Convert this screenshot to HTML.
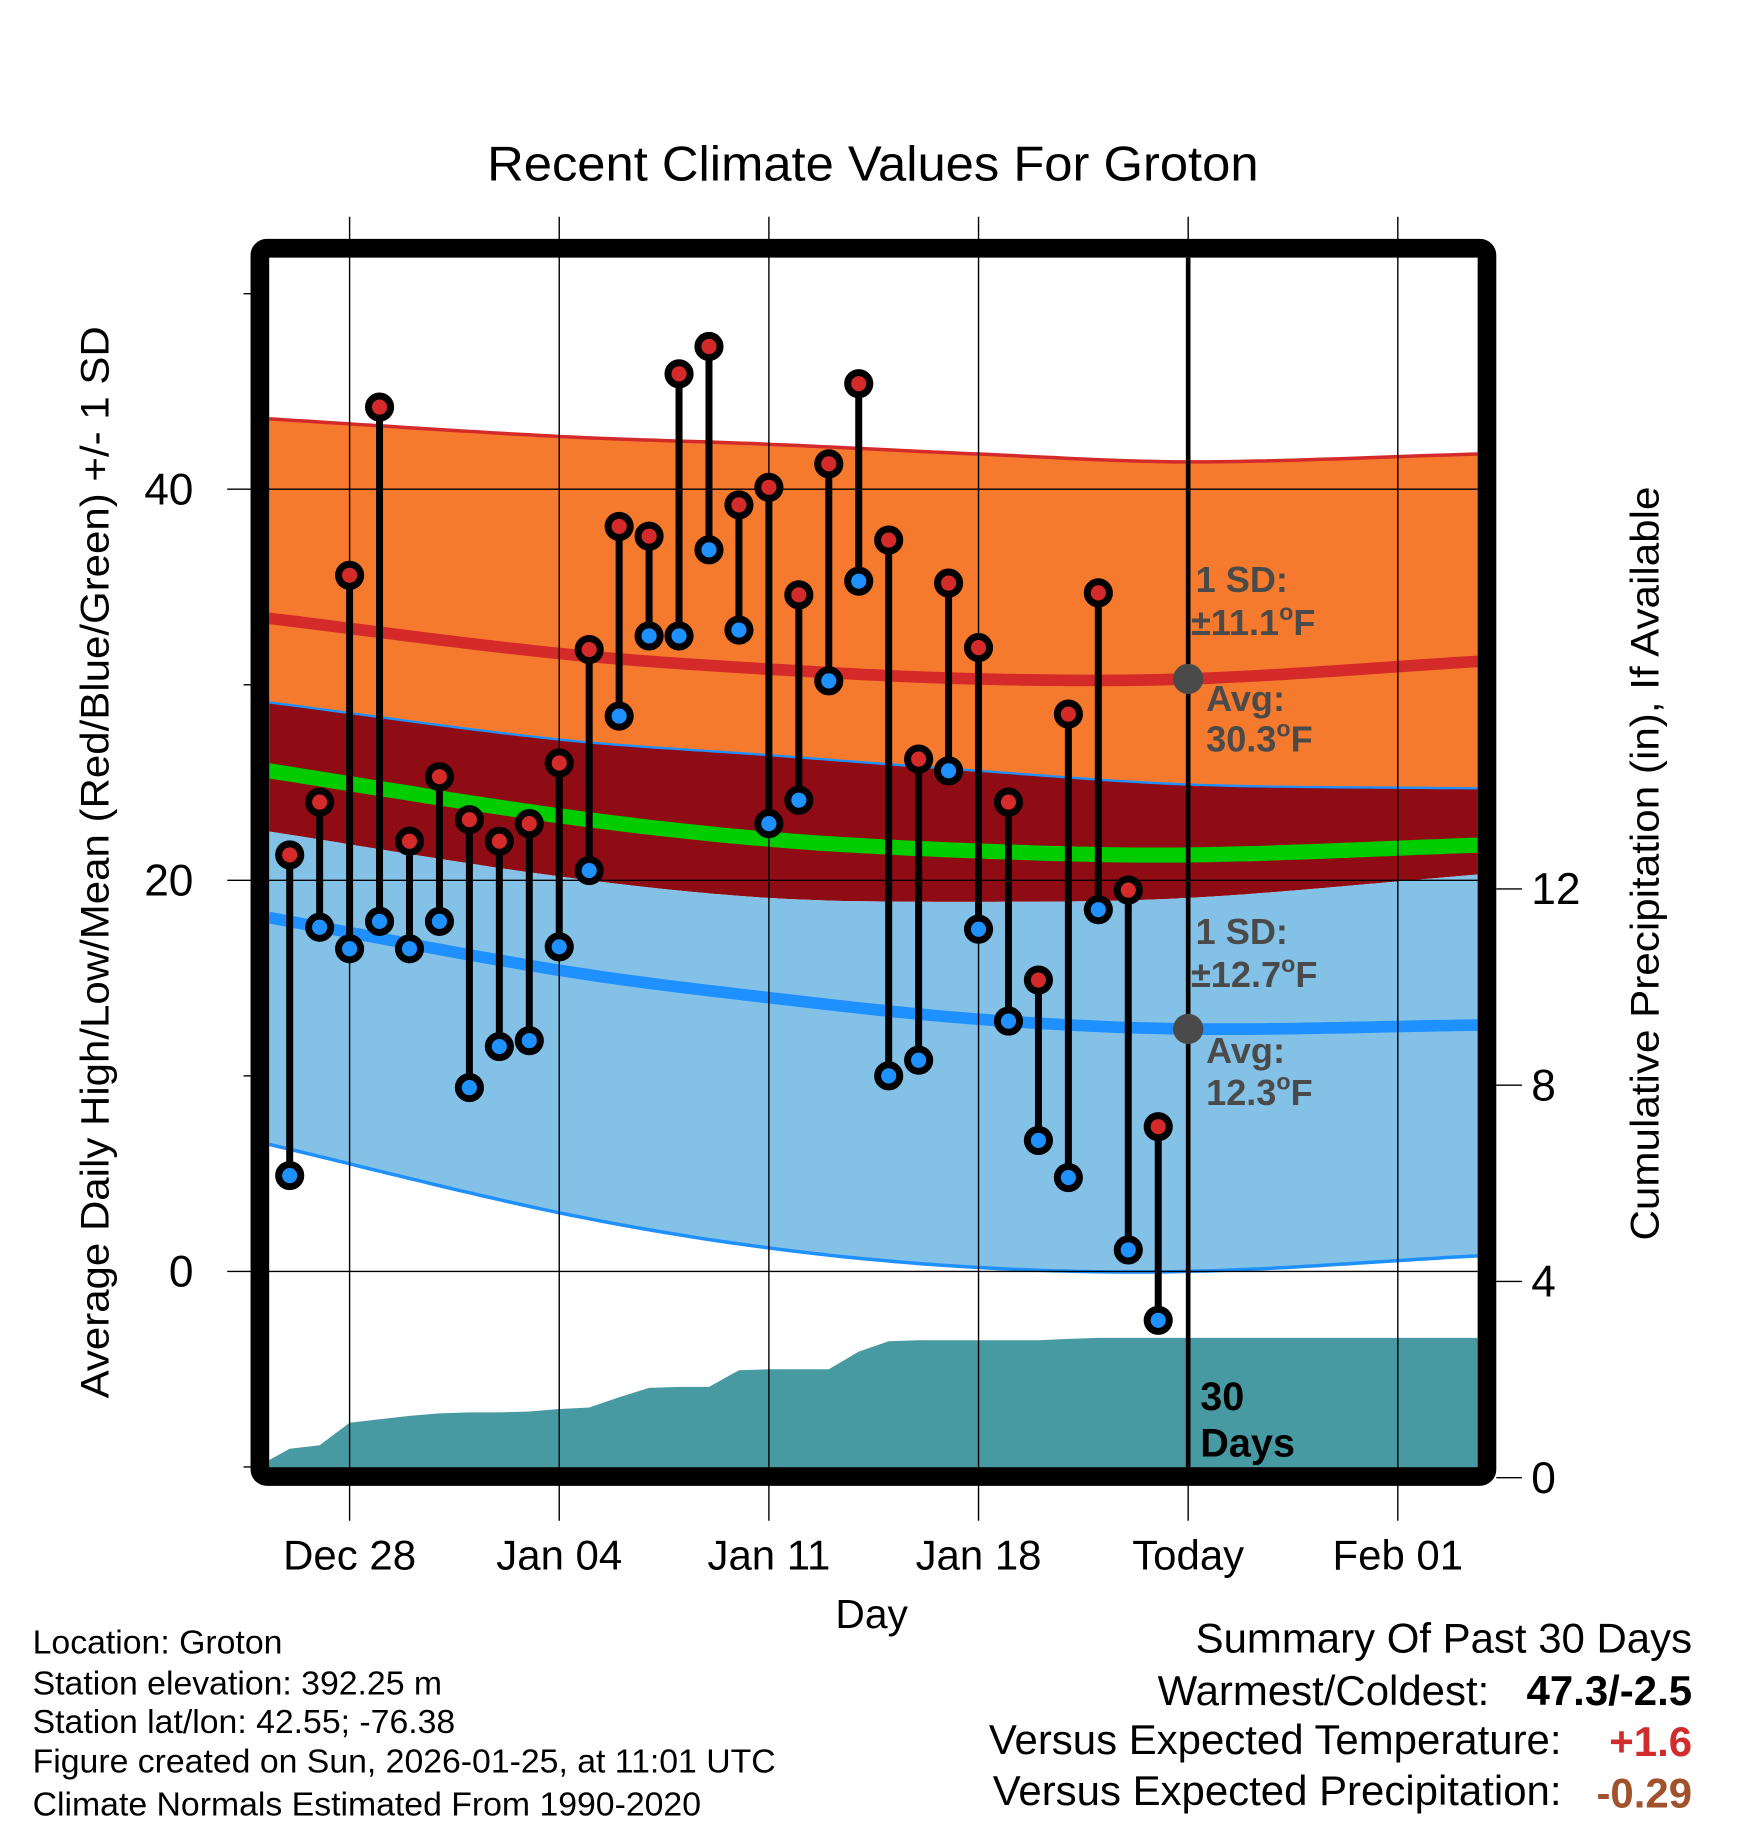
<!DOCTYPE html>
<html><head><meta charset="utf-8"><style>
html,body{margin:0;padding:0;background:#fff;}
svg{display:block;font-family:"Liberation Sans",Arial,sans-serif;}
</style></head><body>
<svg id="chart" width="1748" height="1828" viewBox="0 0 1500 1568.6" xmlns="http://www.w3.org/2000/svg">
<rect x="0" y="0" width="1500" height="1568.6" fill="#fff"/>
<defs><clipPath id="plotclip"><rect x="231" y="221" width="1037" height="1038"/></clipPath></defs>
<text x="749" y="155" font-size="42" text-anchor="middle" textLength="662" lengthAdjust="spacingAndGlyphs">Recent Climate Values For Groton</text>
<g id="bands" clip-path="url(#plotclip)"></g>
<g id="grid"></g>
<g id="marks" clip-path="url(#plotclip)"></g>
<g id="ann"></g>
<rect x="223" y="213" width="1053" height="1054" rx="6" fill="none" stroke="#000" stroke-width="16"/>
<text transform="translate(93,740) rotate(-90)" font-size="34" text-anchor="middle" textLength="920" lengthAdjust="spacingAndGlyphs">Average Daily High/Low/Mean (Red/Blue/Green) +/- 1 SD</text>
<text transform="translate(1423,741) rotate(-90)" font-size="34" text-anchor="middle" textLength="647" lengthAdjust="spacingAndGlyphs">Cumulative Precipitation (in), If Available</text>
<text x="748" y="1397" font-size="35" text-anchor="middle">Day</text>
<g font-size="29">
<text x="28" y="1419">Location: Groton</text>
<text x="28" y="1454">Station elevation: 392.25 m</text>
<text x="28" y="1487">Station lat/lon: 42.55; -76.38</text>
<text x="28" y="1521">Figure created on Sun, 2026-01-25, at 11:01 UTC</text>
<text x="28" y="1558">Climate Normals Estimated From 1990-2020</text>
</g>
<g font-size="36">
<text x="1452" y="1418" text-anchor="end">Summary Of Past 30 Days</text>
<text x="1278" y="1463" text-anchor="end">Warmest/Coldest:</text>
<text x="1452" y="1463" text-anchor="end" font-weight="bold">47.3/-2.5</text>
<text x="1340" y="1505" text-anchor="end">Versus Expected Temperature:</text>
<text x="1452" y="1507" text-anchor="end" font-weight="bold" fill="#d22b2b">+1.6</text>
<text x="1340" y="1549" text-anchor="end">Versus Expected Precipitation:</text>
<text x="1452" y="1551" text-anchor="end" font-weight="bold" fill="#a0522d">-0.29</text>
</g>
</svg>
<script>
// day index 0 = Dec 28
const obsDays = [-2,-1,0,1,2,3,4,5,6,7,8,9,10,11,12,13,14,15,16,17,18,19,20,21,22,23,24,25,26,27];
const highs = [21.3,24.0,35.6,44.2,22.0,25.3,23.1,22.0,22.9,26.0,31.8,38.1,37.6,45.9,47.3,39.2,40.1,34.6,41.3,45.4,37.4,26.2,35.2,31.9,24.0,14.9,28.5,34.7,19.5,7.4];
const lows = [4.9,17.6,16.5,17.9,16.5,17.9,9.4,11.5,11.8,16.6,20.5,28.4,32.5,32.5,36.9,32.8,22.9,24.1,30.2,35.3,10.0,10.8,25.6,17.5,12.8,6.7,4.8,18.5,1.1,-2.5];
const precip = [0.59,0.66,1.12,1.19,1.26,1.31,1.33,1.33,1.35,1.40,1.43,1.64,1.83,1.85,1.85,2.19,2.21,2.21,2.21,2.57,2.78,2.80,2.80,2.80,2.80,2.80,2.83,2.85,2.85,2.85];
const normDays = [-2.7,7,14,21,28,37.7];
const normHigh = [33.4,31.6,30.8,30.3,30.3,31.2];
const highPlusSD = [43.6,42.7,42.3,41.8,41.4,41.8];
const highMinusSD = [29.1,27.2,26.4,25.6,24.9,24.7];
const normMean = [25.6,23.3,22.1,21.5,21.3,21.8];
const normLow = [18.1,15.4,14.0,12.9,12.4,12.6];
const lowPlusSD = [22.5,20.2,19.1,18.9,19.1,20.3];
const lowMinusSD = [6.5,3.0,1.2,0.2,0.0,0.8];
const xTickDays = [0,7,14,21,28,35];
const xTickLabels = ["Dec 28","Jan 04","Jan 11","Jan 18","Today","Feb 01"];
const yTicks = [0,20,40];
const yMinor = [-10,10,30,50];
const y2Ticks = [0,4,8,12];
const todayDay = 28;

const NS="http://www.w3.org/2000/svg";
const X = d => 300 + d*25.7;
const Y = v => 1091 - v*16.78;
const Y2 = p => 1268 - p*42.1;
function mk(tag, attrs, parent, txt){const e=document.createElementNS(NS,tag);for(const k in attrs)e.setAttribute(k,attrs[k]);if(txt!==undefined)e.textContent=txt;parent.appendChild(e);return e;}
// Catmull-Rom interpolation through nodes
function interp(xs, ys, n){const pts=[];const N=xs.length;for(let i=0;i<=n;i++){const d=xs[0]+(xs[N-1]-xs[0])*i/n;let j=0;while(j<N-2&&d>xs[j+1])j++;
 const t=(d-xs[j])/(xs[j+1]-xs[j]);
 const p0=ys[Math.max(j-1,0)],p1=ys[j],p2=ys[j+1],p3=ys[Math.min(j+2,N-1)];
 const h=xs[j+1]-xs[j];
 const m1=(j>0)?(p2-p0)/(xs[j+1]-xs[j-1])*h:(p2-p1);
 const m2=(j+2<N)?(p3-p1)/(xs[j+2]-xs[j])*h:(p2-p1);
 const t2=t*t,t3=t2*t;
 const v=(2*t3-3*t2+1)*p1+(t3-2*t2+t)*m1+(-2*t3+3*t2)*p2+(t3-t2)*m2;
 pts.push([d,v]);}return pts;}
const bands=document.getElementById('bands'), grid=document.getElementById('grid'), marks=document.getElementById('marks'), ann=document.getElementById('ann');
function bandPath(top,bot){const a=interp(normDays,top,120),b=interp(normDays,bot,120).reverse();return 'M'+a.map(p=>X(p[0]).toFixed(1)+','+Y(p[1]).toFixed(1)).join('L')+'L'+b.map(p=>X(p[0]).toFixed(1)+','+Y(p[1]).toFixed(1)).join('L')+'Z';}
function linePath(vals){return 'M'+interp(normDays,vals,120).map(p=>X(p[0]).toFixed(1)+','+Y(p[1]).toFixed(1)).join('L');}

let e;
e=mk('path',{d:bandPath(highPlusSD,highMinusSD),fill:'#f57a2e'},bands);


e=mk('path',{d:bandPath(highMinusSD,lowPlusSD),fill:'#8f0c15'},bands);


e=mk('path',{d:bandPath(lowPlusSD,lowMinusSD),fill:'#83c1e7'},bands);


e=mk('path',{d:linePath(highPlusSD),fill:'none',stroke:'#d42a2a','stroke-width':3},bands);


e=mk('path',{d:linePath(highMinusSD),fill:'none',stroke:'#1e90ff','stroke-width':2},bands);


e=mk('path',{d:linePath(lowMinusSD),fill:'none',stroke:'#1e90ff','stroke-width':3},bands);


e=mk('path',{d:linePath(normHigh),fill:'none',stroke:'#d42a2a','stroke-width':10},bands);


e=mk('path',{d:linePath(normMean),fill:'none',stroke:'#00cc00','stroke-width':13},bands);


e=mk('path',{d:linePath(normLow),fill:'none',stroke:'#1e90ff','stroke-width':10},bands);



// precipitation area
let pd='M'+X(-2.7)+','+Y2(0);
pd+='L'+X(obsDays[0]-0.7)+','+Y2(precip[0]*0.6);
obsDays.forEach((d,i)=>{pd+='L'+X(d)+','+Y2(precip[i]);});
pd+='L'+X(37.7)+','+Y2(precip[precip.length-1])+'L'+X(37.7)+','+Y2(0)+'Z';
e=mk('path',{d:pd,fill:'#489aa2'},bands);



// grid
xTickDays.forEach((d,i)=>{
 e=mk('line',{x1:X(d),x2:X(d),y1:186,y2:1305,stroke:'#000','stroke-width':1.2},grid);
 
 
 e=mk('text',{x:X(d),y:1347,'font-size':36,'text-anchor':'middle'},grid,xTickLabels[i]);
 
 
});
yTicks.forEach(v=>{
 e=mk('line',{x1:195,x2:1268,y1:Y(v),y2:Y(v),stroke:'#000','stroke-width':1.2},grid);
 
 
 e=mk('text',{x:166,y:Y(v)+13,'font-size':38,'text-anchor':'end'},grid,String(v));
 
 
});
yMinor.forEach(v=>{
 e=mk('line',{x1:209,x2:222,y1:Y(v),y2:Y(v),stroke:'#000','stroke-width':1.2},grid);
 
 
});
y2Ticks.forEach(p=>{
 e=mk('line',{x1:1284,x2:1306,y1:Y2(p),y2:Y2(p),stroke:'#000','stroke-width':1.2},grid);
 
 
 e=mk('text',{x:1314,y:Y2(p)+13,'font-size':38,'text-anchor':'start'},grid,String(p));
 
 
});

// today line
e=mk('line',{x1:X(todayDay),x2:X(todayDay),y1:221,y2:1262,stroke:'#000','stroke-width':4},marks);



// stems and markers
obsDays.forEach((d,i)=>{
 e=mk('line',{x1:X(d),x2:X(d),y1:Y(highs[i]),y2:Y(lows[i]),stroke:'#000','stroke-width':6},marks);
 
 
 e=mk('circle',{cx:X(d),cy:Y(highs[i]),r:9.5,fill:'#d42a2a',stroke:'#000','stroke-width':6},marks);
 
 
 e=mk('circle',{cx:X(d),cy:Y(lows[i]),r:9.5,fill:'#1e90ff',stroke:'#000','stroke-width':6},marks);
 
 
});

// today normal dots
const ti=normDays.findIndex(d=>d===todayDay);
e=mk('circle',{cx:X(todayDay),cy:Y(normHigh[ti]),r:13,fill:'#4a4a4a'},ann);


e=mk('circle',{cx:X(todayDay),cy:Y(normLow[ti]),r:13,fill:'#4a4a4a'},ann);



function label(x,y,txt,size,color){e=mk('text',{x:x,y:y,'font-size':size,'font-weight':'bold',fill:color},ann);e.innerHTML=txt;return e;}
const deg='<tspan dy="-13" font-size="20">o</tspan><tspan dy="13">F</tspan>';
e=label(1026,508,'1 SD:',31,'#4a4a4a');


e=label(1022,545,'±11.1'+deg,31,'#4a4a4a');


e=label(1035,610,'Avg:',31,'#4a4a4a');


e=label(1035,645,'30.3'+deg,31,'#4a4a4a');


e=label(1026,810,'1 SD:',31,'#4a4a4a');


e=label(1022,847,'±12.7'+deg,31,'#4a4a4a');


e=label(1035,912,'Avg:',31,'#4a4a4a');


e=label(1035,948,'12.3'+deg,31,'#4a4a4a');


e=label(1030,1210,'30',34,'#000');


e=label(1030,1250,'Days',34,'#000');


</script>
</body></html>
